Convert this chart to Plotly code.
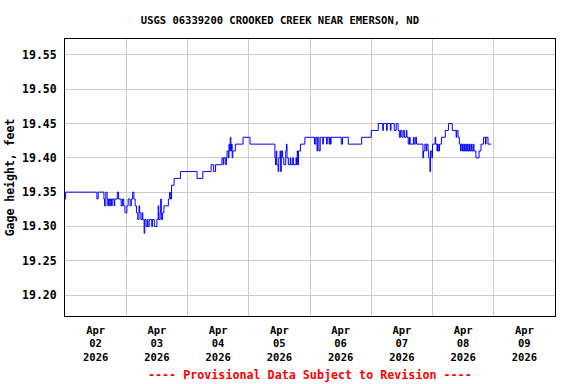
import pandas as pd
import plotly.graph_objects as go

# Change points of the gage-height record: hours after 2026-04-02 00:00, value in feet
hours = [
    0.0, 0.25, 12.5, 13.0, 15.25, 15.5, 16.0, 16.5, 16.75, 17.0, 17.5, 17.75,
    18.25, 18.5, 19.25, 19.5, 20.5, 21.0, 22.0, 22.5, 23.0, 23.5, 24.25, 24.75,
    25.5, 26.0, 26.5, 27.0, 27.5, 28.0, 28.5, 29.0, 29.25, 29.75, 30.25, 30.5,
    31.0, 31.25, 31.75, 32.25, 32.5, 33.0, 34.0, 34.25, 35.0, 36.0, 36.5, 36.75,
    37.25, 37.5, 37.75, 38.25, 38.75, 40.5, 41.0, 41.25, 41.75, 42.75, 45.25,
    51.75, 54.0, 57.25, 58.25, 59.0, 61.5, 62.0, 62.25, 63.0, 63.25, 63.5, 64.0,
    64.25, 64.5, 64.75, 65.0, 65.25, 65.5, 65.75, 66.75, 69.75, 72.5, 82.25,
    82.5, 82.75, 83.0, 83.5, 83.75, 84.25, 84.5, 84.75, 85.25, 85.75, 86.5,
    86.75, 87.0, 87.5, 88.25, 88.5, 89.25, 89.5, 90.5, 90.75, 91.0, 91.25, 91.5,
    92.25, 94.0, 97.75, 98.25, 98.75, 99.0, 99.5, 100.0, 101.0, 101.25, 102.5,
    102.75, 103.5, 103.75, 104.0, 104.25, 108.25, 108.75, 111.0, 116.25, 120.0,
    122.75, 124.5, 124.75, 126.0, 126.25, 127.5, 127.75, 129.0, 129.75, 130.5,
    131.0, 131.5, 132.0, 132.5, 133.0, 133.75, 134.0, 134.5, 135.0, 135.25,
    136.5, 136.75, 137.25, 137.75, 140.25, 140.5, 141.0, 141.5, 141.75, 142.25,
    142.5, 143.0, 143.25, 143.75, 144.0, 145.0, 145.25, 145.75, 146.0, 146.25,
    146.75, 147.5, 149.0, 150.25, 151.75, 153.25, 153.5, 154.0, 154.5, 155.0,
    155.25, 155.75, 156.25, 156.5, 157.0, 157.25, 157.75, 158.0, 158.5, 158.75,
    159.25, 159.5, 160.0, 160.25, 161.0, 162.25, 163.0, 164.0, 164.75, 165.0,
    165.75, 167.0,
]
gage_ft = [
    19.34, 19.35, 19.34, 19.35, 19.34, 19.33, 19.35, 19.34, 19.33, 19.34, 19.33, 19.34,
    19.33, 19.34, 19.33, 19.34, 19.35, 19.34, 19.33, 19.34, 19.33, 19.32, 19.33, 19.34,
    19.33, 19.34, 19.35, 19.34, 19.33, 19.32, 19.31, 19.33, 19.32, 19.31, 19.32, 19.31,
    19.29, 19.31, 19.30, 19.31, 19.30, 19.31, 19.30, 19.31, 19.30, 19.31, 19.33, 19.31,
    19.32, 19.34, 19.31, 19.32, 19.33, 19.34, 19.35, 19.34, 19.36, 19.37, 19.38,
    19.37, 19.38, 19.39, 19.38, 19.39, 19.40, 19.39, 19.40, 19.39, 19.40, 19.41, 19.40,
    19.42, 19.41, 19.43, 19.41, 19.42, 19.40, 19.41, 19.42, 19.43, 19.42, 19.40,
    19.39, 19.41, 19.39, 19.38, 19.40, 19.41, 19.38, 19.41, 19.40, 19.39, 19.41,
    19.42, 19.40, 19.39, 19.40, 19.39, 19.40, 19.39, 19.40, 19.39, 19.41, 19.39, 19.41,
    19.42, 19.43, 19.42, 19.43, 19.41, 19.43, 19.41, 19.43, 19.42, 19.43, 19.42,
    19.43, 19.42, 19.43, 19.42, 19.43, 19.42, 19.43, 19.42, 19.43, 19.44,
    19.45, 19.44, 19.45, 19.44, 19.45, 19.44, 19.45, 19.44, 19.45, 19.44,
    19.43, 19.44, 19.43, 19.44, 19.43, 19.44, 19.43, 19.42, 19.43, 19.42,
    19.43, 19.42, 19.43, 19.42, 19.40, 19.41, 19.42, 19.41, 19.42, 19.41,
    19.40, 19.38, 19.41, 19.40, 19.42, 19.43, 19.42, 19.41, 19.42, 19.41,
    19.42, 19.43, 19.44, 19.45, 19.44, 19.43, 19.44, 19.43, 19.42, 19.41,
    19.42, 19.41, 19.42, 19.41, 19.42, 19.41, 19.42, 19.41, 19.42, 19.41,
    19.42, 19.41, 19.42, 19.41, 19.40, 19.41, 19.42, 19.43, 19.42, 19.43,
    19.42, 19.42,
]

start = pd.Timestamp("2026-04-02 00:00")
times = start + pd.to_timedelta(hours, unit="h")

title_text = "USGS 06339200 CROOKED CREEK NEAR EMERSON, ND"
y_title = "Gage height, feet"
footer = "---- Provisional Data Subject to Revision ----"
y_ticks = [19.20, 19.25, 19.30, 19.35, 19.40, 19.45, 19.50, 19.55]
x_range = ["2026-04-02 00:00", "2026-04-10 00:00"]
y_range = [19.1694, 19.5733]

mono = "DejaVu Sans Mono"

fig = go.Figure()
fig.add_trace(go.Scatter(
    x=times, y=gage_ft, mode="lines", line=dict(color="#0000ff", width=1, shape="hv"),
    showlegend=False, hoverinfo="skip",
))

fig.update_layout(
    width=576, height=384,
    margin=dict(l=65, r=21, t=39, b=68, autoexpand=False),
    paper_bgcolor="white", plot_bgcolor="white",
    font=dict(family=mono, size=11.5, color="black", weight="bold"),
    title=dict(text=title_text, x=0.486, xanchor="center", y=0.948, yanchor="middle",
               font=dict(family=mono, size=10.5, color="black", weight="bold")),
    xaxis=dict(
        type="date", range=x_range, dtick=86400000, tick0="2026-04-02",
        ticklabelmode="period", tickformat="%b<br>%d<br>%Y",
        showgrid=True, gridcolor="#cccccc", gridwidth=1,
        showline=True, linecolor="black", linewidth=1, mirror=True,
        ticks="outside", ticklen=4, tickcolor="rgba(0,0,0,0)",
        zeroline=False, automargin=False,
        tickfont=dict(family=mono, size=10.5, color="black", weight="bold"),
    ),
    yaxis=dict(
        range=y_range, tickvals=y_ticks, tickformat=".2f",
        showgrid=True, gridcolor="#cccccc", gridwidth=1,
        showline=True, linecolor="black", linewidth=1, mirror=True,
        ticks="outside", ticklen=5, tickcolor="rgba(0,0,0,0)",
        zeroline=False, automargin=False,
        title=dict(text=y_title, standoff=5,
                   font=dict(family=mono, size=11.5, color="black", weight="bold")),
        tickfont=dict(family=mono, size=11.5, color="black", weight="bold"),
    ),
    annotations=[dict(
        text=footer, xref="paper", yref="paper", x=0.5, y=-0.213,
        xanchor="center", yanchor="middle", showarrow=False,
        font=dict(family=mono, size=11.7, color="#ff0000", weight="bold"),
    )],
)

fig.write_html("out.html", config={"displayModeBar": False},
               post_script="document.body.style.margin='0px';")
